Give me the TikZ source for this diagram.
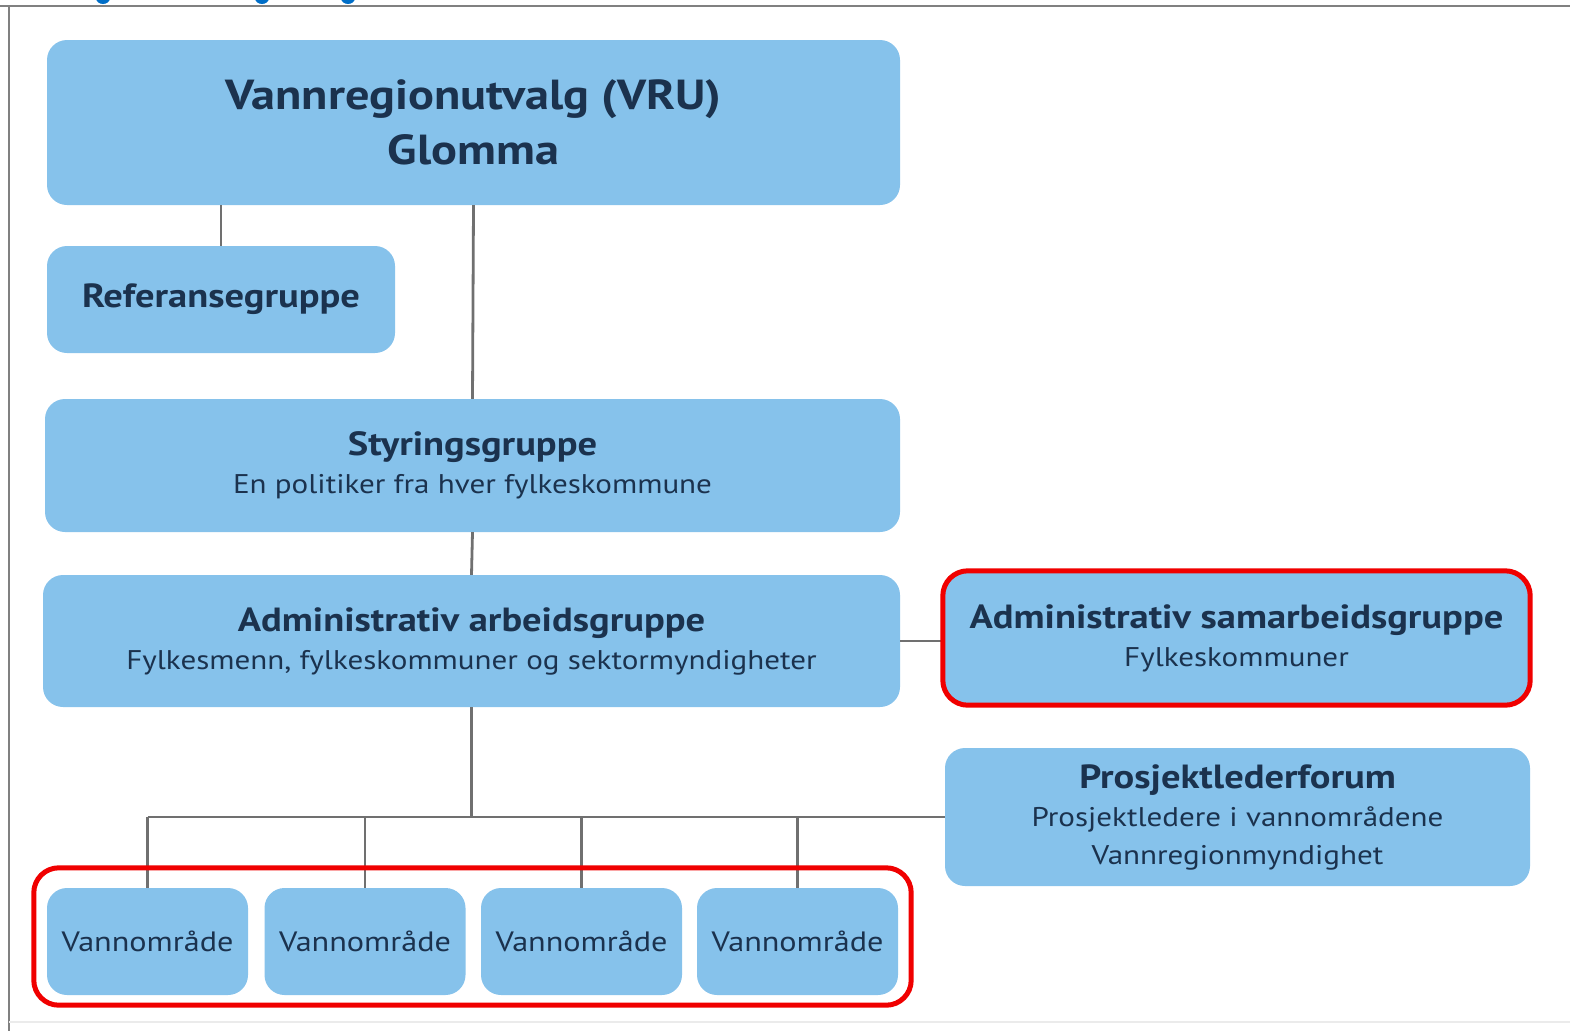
\documentclass[tikz,border=0pt]{standalone}
\usepackage{fontspec}
\setmainfont{PT Sans}[FakeStretch=1.15]
\usetikzlibrary{fit}

\definecolor{boxblue}{RGB}{134,194,235}
\definecolor{navy}{RGB}{27,50,78}
\definecolor{linkgray}{RGB}{112,112,112}
\definecolor{markred}{RGB}{240,0,0}
\definecolor{headblue}{RGB}{0,110,200}

\tikzset{
  orgbox/.style={fill=boxblue, rounded corners=20pt, align=center, text=navy, inner sep=0pt},
  link/.style={draw=linkgray, line width=2.8pt},
  redframe/.style={draw=markred, line width=5pt, rounded corners=25pt},
  subfont/.style={font=\fontsize{27}{38}\selectfont}
}
\newcommand{\boxhead}[1]{{\bfseries\fontsize{33.5}{38}\selectfont #1}}

\begin{document}
\begin{tikzpicture}[x=1pt,y=-1pt]
\useasboundingbox (0,0) rectangle (1570,1031);

% frame and cut off heading
\begin{scope}
\clip (0,0) rectangle (1570,5);
\foreach \x in {103,262,348} \fill[headblue] (\x,-2) ellipse (7pt and 6pt);
\end{scope}
\draw[gray, line width=2pt] (0,6) -- (1570,6);
\draw[gray, line width=2pt] (9,6) -- (9,1031);
\draw[black!8, line width=1.5pt] (9,1022) -- (1570,1022);

% boxes
\node[orgbox, minimum width=853pt, minimum height=165pt, font=\fontsize{42}{55}\selectfont\bfseries] (vru) at (473.5,122.5) {Vannregionutvalg (VRU)\\Glomma};
\node[orgbox, minimum width=348pt, minimum height=107pt, font=\fontsize{33.5}{38}\selectfont\bfseries] (ref) at (221,299.5) {Referansegruppe};
\node[orgbox, subfont, minimum width=855pt, minimum height=133pt] (styr) at (472.5,465.5) {\boxhead{Styringsgruppe}\\En politiker fra hver fylkeskommune};
\node[orgbox, subfont, minimum width=857pt, minimum height=132pt] (arb) at (471.5,641) {\boxhead{Administrativ arbeidsgruppe}\\Fylkesmenn, fylkeskommuner og sektormyndigheter};
\node[orgbox, subfont, minimum width=583pt, minimum height=130pt] (sam) at (1236.5,638) {\boxhead{Administrativ samarbeidsgruppe}\\Fylkeskommuner};
\node[orgbox, subfont, minimum width=585pt, minimum height=138pt] (pros) at (1237.5,817) {\boxhead{Prosjektlederforum}\\Prosjektledere i vannområdene\\Vannregionmyndighet};
\foreach \vo/\x in {v1/147.5, v2/365, v3/581.5, v4/797.5}
  \node[orgbox, minimum width=201pt, minimum height=107pt, font=\fontsize{28}{36}\selectfont] (\vo) at (\x,941.5) {Vannområde};

% connectors
\coordinate (bus) at (471,817);
\draw[link] (vru.south -| ref.north) -- (ref.north);
\draw[link] (vru.south) -- (styr.north);
\draw[link] (styr.south) -- (arb.north);
\draw[link] (arb.east) -- (arb.east -| sam.west);
\draw[link] (arb.south) -- (arb.south |- bus);
\draw[link] (v1.north |- bus) -- (bus -| pros.west);
\foreach \vo in {v1,v2,v3,v4} \draw[link] (\vo.north |- bus) -- (\vo.north);

% highlights
\node[redframe, fit=(sam), inner sep=2pt] (samframe) {};
\node[redframe, fit=(v1)(v4), inner xsep=13pt, inner ysep=15pt, yshift=5pt] (vannframe) {};

\end{tikzpicture}
\end{document}
